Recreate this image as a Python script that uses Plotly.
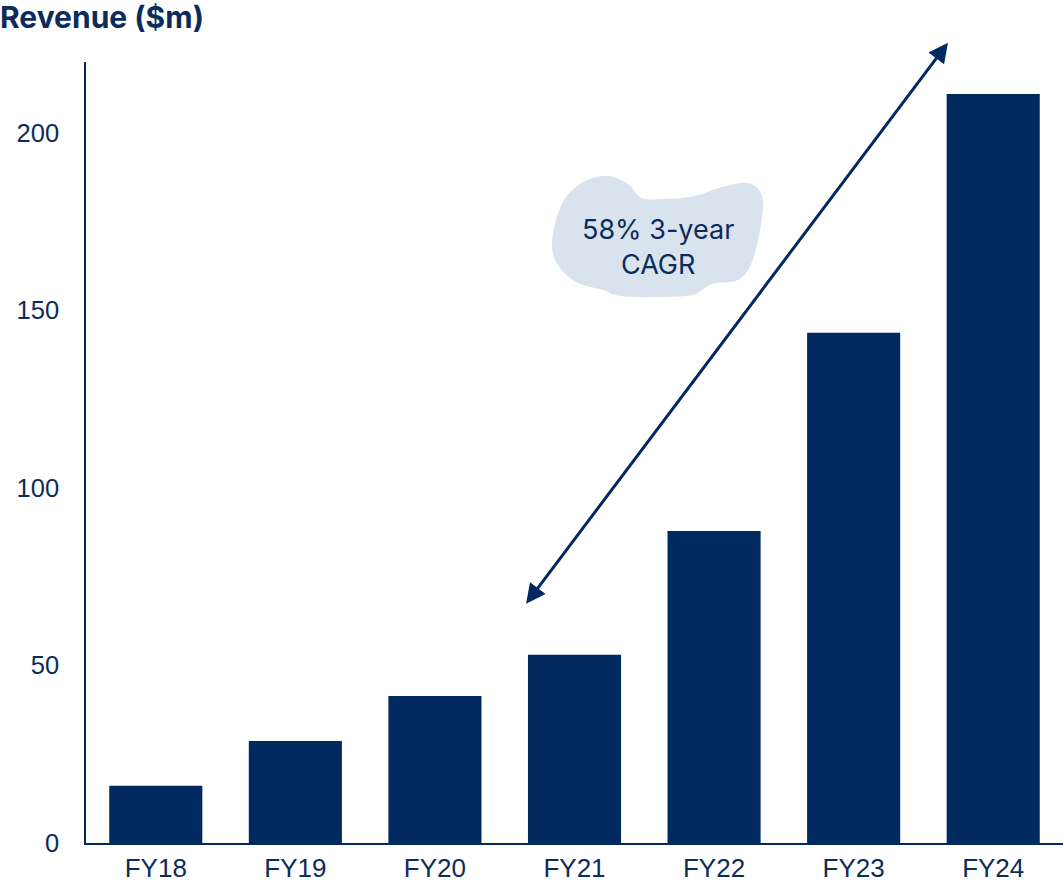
import plotly.graph_objects as go

# Revenue by fiscal year ($m)
years = ["FY18", "FY19", "FY20", "FY21", "FY22", "FY23", "FY24"]
revenue = [16.1, 28.7, 41.4, 53.0, 87.9, 143.7, 211.0]
y_ticks = [0, 50, 100, 150, 200]

NAVY = "#00295f"
TEXT = "#0c2c5c"
CLOUD = "#d9e3ee"

# CAGR callout: arrow span (category index, value) and bubble anchor
arrow_start = (2.645, 67.0)
arrow_end = (5.676, 225.4)
bubble_anchor = (3.598, 170.4)
bubble_label = "58% 3-year<br>CAGR"

# Irregular bubble outline, pixel offsets from the anchor (y up)
blob = [(-106, -10), (-102, 18), (-92, 41), (-73, 57), (-50, 62), (-30, 54),
        (-16, 40), (7, 39), (37, 42), (64, 51), (90, 55), (104, 42),
        (103, 13), (94, -24), (80, -42), (54, -46), (34, -57), (-3, -59),
        (-38, -58), (-55, -52), (-80, -45), (-98, -30)]


def smooth_closed_path(pts, tension=1 / 6):
    """Catmull-Rom through the points, written as cubic Bezier segments."""
    n = len(pts)
    d = f"M{pts[0][0]},{pts[0][1]}"
    for i in range(n):
        p0, p1, p2, p3 = pts[i - 1], pts[i], pts[(i + 1) % n], pts[(i + 2) % n]
        c1 = (p1[0] + (p2[0] - p0[0]) * tension, p1[1] + (p2[1] - p0[1]) * tension)
        c2 = (p2[0] - (p3[0] - p1[0]) * tension, p2[1] - (p3[1] - p1[1]) * tension)
        d += f" C{c1[0]:.1f},{c1[1]:.1f} {c2[0]:.1f},{c2[1]:.1f} {p2[0]},{p2[1]}"
    return d + " Z"


fig = go.Figure(
    go.Bar(
        x=years,
        y=revenue,
        marker=dict(color=NAVY, line=dict(width=0)),
        hoverinfo="x+y",
    )
)

fig.add_shape(
    type="path",
    xref="x", yref="y",
    xsizemode="pixel", ysizemode="pixel",
    xanchor=bubble_anchor[0], yanchor=bubble_anchor[1],
    path=smooth_closed_path(blob),
    fillcolor=CLOUD,
    line=dict(width=0),
    layer="below",
)

fig.add_annotation(
    x=bubble_anchor[0], y=bubble_anchor[1] - 2.5,
    xref="x", yref="y",
    text=bubble_label,
    showarrow=False,
    font=dict(family="Inter", size=27, color=TEXT),
    align="center",
)

# Double-headed growth arrow
fig.add_annotation(
    x=arrow_end[0], y=arrow_end[1],
    ax=arrow_start[0], ay=arrow_start[1],
    xref="x", yref="y", axref="x", ayref="y",
    text="",
    showarrow=True,
    arrowhead=2, startarrowhead=2,
    arrowside="end+start",
    arrowsize=1.3, startarrowsize=1.3,
    arrowwidth=3,
    arrowcolor=NAVY,
    standoff=0, startstandoff=0,
)

fig.update_layout(
    width=1063,
    height=886,
    margin=dict(l=86, r=0, t=62, b=43),
    paper_bgcolor="white",
    plot_bgcolor="white",
    bargap=0.333,
    showlegend=False,
    title=dict(
        text="<b>Revenue ($m)</b>",
        x=0, xref="container", xanchor="left",
        y=0.980, yref="container", yanchor="middle",
        pad=dict(t=0, l=0, b=0, r=0),
        font=dict(family="Inter", size=30, color=TEXT),
    ),
    font=dict(family="Liberation Sans, Arial, sans-serif", size=26, color=TEXT),
)

fig.update_xaxes(
    showline=True, linecolor=NAVY, linewidth=1.5,
    showgrid=False, ticks="", ticklabelstandoff=1,
    tickfont=dict(size=26, color=TEXT),
)
fig.update_yaxes(
    range=[0, 220],
    tickvals=y_ticks,
    showline=True, linecolor=NAVY, linewidth=1.5,
    showgrid=False, zeroline=False, ticks="",
    ticklabelstandoff=20,
    tickfont=dict(size=25.5, color=TEXT),
)

fig.write_html("out.html")
